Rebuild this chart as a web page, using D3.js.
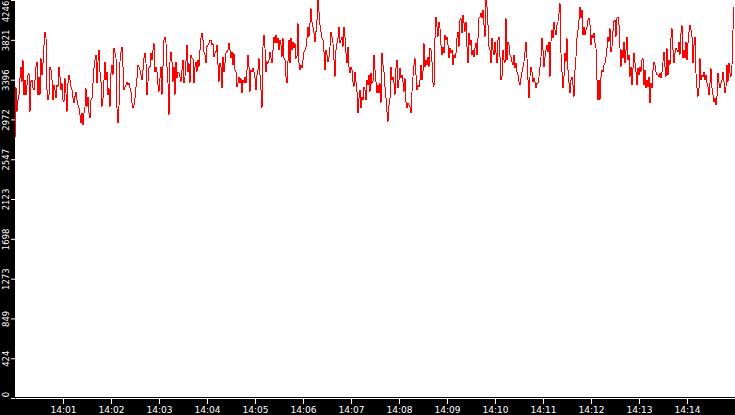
<!DOCTYPE html>
<html>
<head>
<meta charset="utf-8">
<script src="https://cdn.jsdelivr.net/npm/d3@7"></script>
<style>
  body { margin: 0; background: #fff; }
  svg { display: block; }
  .axis text { fill: #fff; font-family: "DejaVu Sans", sans-serif; }
  .axis line, .axis path { stroke: #fff; }
</style>
</head>
<body>
<script>
// samples, one every 1.25 s starting at 14:00:00
var startTime = "14:00:00";
var stepSeconds = 1.25;
var endTime = "14:15:00";

var part1 = [2770, 3314, 3055, 3179, 3233, 3410, 3535, 3375, 3606, 3233,
  3393, 3233, 3339, 3446, 3464, 3055, 3375, 3393, 3304, 3286,
  3393, 3535, 3588, 3233, 3428, 3233, 3624, 3446, 3570, 3766,
  3908, 3837, 3286, 3179, 3233, 3535, 3499, 3393, 3179, 3339,
  3286, 3197, 3339, 3321, 3535, 3428, 3286, 3357, 3179, 3161,
  3410, 3250, 3055, 3357, 3446, 3393, 3321, 3286, 3197, 3144,
  3215, 3268, 3179, 3126, 3090, 3019, 2930, 3037, 2912, 3037,
  3108, 3304, 3108, 3215, 3037, 2984, 3179, 3197, 3357, 3517,
  3606, 3659, 3357, 3588, 3713, 3481, 3375, 3108, 3197, 3393];
var part2 = [3588, 3393, 3481, 3233, 3304, 3108, 3464, 3553, 3446, 3730,
  3677, 3624, 3090, 2930, 3108, 3588, 3695, 3748, 3535, 3286,
  3321, 3339, 3375, 3339, 3357, 3304, 3268, 3144, 3090, 3126,
  3197, 3321, 3410, 3553, 3535, 3499, 3446, 3393, 3499, 3624,
  3677, 3570, 3233, 3375, 3517, 3535, 3677, 3606, 3713, 3784,
  3481, 3535, 3481, 3339, 3268, 3410, 3535, 3233, 3535, 3819,
  3855, 3784, 3535, 3357, 3019, 3588, 3695, 3588, 3375, 3535,
  3233, 3588, 3410, 3481, 3464, 3428, 3375, 3499, 3606, 3357,
  3428, 3588, 3766, 3481, 3570, 3357, 3659, 3624, 3624, 3357];
var part3 = [3535, 3588, 3481, 3606, 3535, 3713, 3837, 3890, 3819, 3695,
  3659, 3570, 3748, 3766, 3784, 3819, 3819, 3766, 3784, 3641,
  3677, 3695, 3766, 3553, 3375, 3570, 3535, 3304, 3641, 3481,
  3570, 3677, 3695, 3713, 3784, 3713, 3624, 3695, 3553, 3677,
  3499, 3481, 3321, 3357, 3428, 3357, 3410, 3250, 3393, 3357,
  3428, 3357, 3499, 3659, 3535, 3268, 3499, 3481, 3517, 3481,
  3410, 3286, 3446, 3499, 3624, 3446, 3286, 3090, 3748, 3873,
  3730, 3481, 3588, 3570, 3606, 3695, 3624, 3570, 3713, 3855,
  3784, 3873, 3784, 3837, 3713, 3819, 3766, 3641, 3837, 3624];
var part4 = [3606, 3428, 3357, 3588, 3819, 3570, 3837, 3713, 3801, 3730,
  3784, 3624, 3641, 3997, 3570, 3499, 3553, 3517, 3606, 3695,
  3713, 3748, 3837, 3962, 3855, 3997, 4157, 4015, 3962, 3890,
  3801, 3908, 4033, 4246, 4122, 3979, 3908, 3837, 3819, 3695,
  3499, 3713, 3659, 3588, 3641, 3748, 3908, 3855, 3784, 3606,
  3428, 3713, 3784, 3837, 3962, 3784, 3819, 3855, 3748, 3962,
  3855, 3677, 3570, 3748, 3535, 3464, 3535, 3499, 3375, 3321,
  3481, 3375, 3268, 3037, 3197, 3286, 3090, 3215, 3179, 3321,
  3286, 3179, 3393, 3339, 3446, 3268, 3464, 3357, 3375, 3659];
var part5 = [3499, 3375, 3250, 3339, 3250, 3357, 3144, 3677, 3553, 3481,
  3321, 3197, 3055, 2948, 3126, 3197, 3535, 3393, 3428, 3357,
  3233, 3517, 3606, 3304, 3393, 3517, 3410, 3446, 3375, 3268,
  3410, 3161, 3090, 3144, 3126, 3108, 3037, 3268, 3428, 3553,
  3624, 3446, 3286, 3339, 3321, 3393, 3553, 3393, 3481, 3784,
  3535, 3606, 3553, 3641, 3535, 3730, 3713, 3588, 3357, 3321,
  3837, 4068, 3962, 3855, 4015, 3944, 3766, 3659, 3748, 3677,
  3873, 3819, 3855, 3766, 3624, 3730, 3677, 3713, 3553, 3659,
  3624, 3677, 3837, 3908, 3748, 4033, 4050, 3890, 4086, 3997];
var part6 = [3908, 4015, 3748, 3570, 3890, 3766, 3819, 3659, 3713, 3641,
  3730, 3784, 3659, 3837, 4050, 4068, 4104, 4050, 4139, 3979,
  3855, 4246, 4175, 3979, 3748, 3713, 3570, 3837, 3713, 3659,
  3801, 3677, 3570, 3819, 3855, 3641, 3393, 3428, 3713, 3606,
  3570, 4050, 3606, 3801, 3766, 3659, 3641, 3588, 3553, 3659,
  3517, 3570, 3481, 3446, 3375, 3339, 3410, 3481, 3535, 3588,
  3695, 3801, 3624, 3393, 3197, 3428, 3535, 3481, 3375, 3410,
  3375, 3304, 3357, 3357, 3428, 3535, 3641, 3837, 3713, 3535,
  3641, 3713, 3766, 3695, 3801, 3428, 3801, 3926, 3837, 4015];
var part7 = [3926, 3873, 3979, 4015, 4104, 4210, 3677, 3481, 3304, 3428,
  3677, 3588, 3837, 3499, 3357, 3250, 3393, 3428, 3339, 3215,
  3499, 3641, 3837, 3926, 4033, 4175, 4050, 4139, 3873, 3962,
  3873, 3926, 3962, 4033, 4050, 3979, 3766, 3873, 3837, 3890,
  3784, 3730, 3393, 3179, 3393, 3179, 3428, 3499, 3481, 3553,
  3570, 3641, 3730, 3855, 3801, 3944, 3695, 3748, 3908, 4015,
  4033, 3855, 4050, 4068, 3979, 3730, 3535, 3713, 3624, 3801,
  3570, 3713, 3855, 3606, 3659, 3428, 3535, 3339, 3517, 3677,
  3570, 3481, 3339, 3517, 3446, 3535, 3481, 3606, 3624, 3339];
var part8 = [3499, 3304, 3393, 3321, 3428, 3144, 3357, 3304, 3499, 3588,
  3553, 3481, 3446, 3446, 3428, 3464, 3410, 3481, 3588, 3695,
  3535, 3428, 3730, 3446, 3606, 3553, 3837, 3944, 3713, 3570,
  3677, 3730, 3713, 3695, 3801, 3659, 3890, 3979, 3624, 3713,
  3624, 3801, 3606, 3784, 3908, 3979, 3926, 3855, 3570, 3766,
  3855, 3464, 3304, 3215, 3304, 3624, 3393, 3446, 3428, 3481,
  3393, 3446, 3357, 3321, 3233, 3357, 3517, 3304, 3233, 3161,
  3197, 3126, 3215, 3464, 3357, 3304, 3357, 3393, 3481, 3375,
  3250, 3321, 3553, 3375, 3570, 3464, 3428, 3553, 3926, 4175];

var yTicks = [0, 424, 849, 1273, 1698, 2123, 2547, 2972, 3396, 3821, 4246];
var xTickLabels = ["14:01", "14:02", "14:03", "14:04", "14:05", "14:06", "14:07",
  "14:08", "14:09", "14:10", "14:11", "14:12", "14:13", "14:14"];

var W = 735, H = 415;
var left = 15, bottom = 398;

var parseTime = d3.timeParse("%H:%M:%S");
var parseMinute = d3.timeParse("%H:%M");
var t0 = parseTime(startTime);

var values = [].concat(part1, part2, part3, part4, part5, part6, part7, part8);
var data = values.map(function(v, i) {
  return { t: new Date(t0.getTime() + i * stepSeconds * 1000), v: v };
});

var x = d3.scaleTime()
  .domain([t0, parseTime(endTime)])
  .range([left, W]);

var y = d3.scaleLinear()
  .domain([0, 4246])
  .range([bottom, 0]);

var svg = d3.select("body").append("svg")
  .attr("width", W)
  .attr("height", H);

// black frame strips
svg.append("rect").attr("x", 0).attr("y", 0).attr("width", left).attr("height", H).attr("fill", "#000");
svg.append("rect").attr("x", 0).attr("y", bottom - 1).attr("width", W).attr("height", H - bottom + 1).attr("fill", "#000");

var line = d3.line()
  .x(function(d) { return x(d.t); })
  .y(function(d) { return y(d.v); });

svg.append("path")
  .datum(data)
  .attr("d", line)
  .attr("fill", "none")
  .attr("stroke", "#ff0000")
  .attr("stroke-width", 1)
  .attr("shape-rendering", "crispEdges");

var xAxis = svg.append("g")
  .attr("class", "axis")
  .attr("transform", "translate(0," + bottom + ")")
  .call(d3.axisBottom(x)
    .tickValues(xTickLabels.map(parseMinute))
    .tickFormat(d3.timeFormat("%H:%M"))
    .tickSize(6)
    .tickSizeOuter(0));
xAxis.selectAll("text").style("font-size", "9px");

var yAxis = svg.append("g")
  .attr("class", "axis")
  .attr("transform", "translate(" + left + ",0)")
  .call(d3.axisLeft(y).tickValues(yTicks).tickFormat(d3.format("d")).tickSize(4));
yAxis.select(".domain").remove();
yAxis.selectAll("text")
  .style("font-size", "8.5px")
  .attr("x", null)
  .attr("dy", null)
  .attr("text-anchor", "middle")
  .attr("transform", function(d) {
    var off = 0;
    if (y(d) < 11) off = 11 - y(d);
    if (y(d) > 394) off = 394 - y(d);
    return "translate(-6.5," + off + ") rotate(-90)";
  });
</script>
</body>
</html>
